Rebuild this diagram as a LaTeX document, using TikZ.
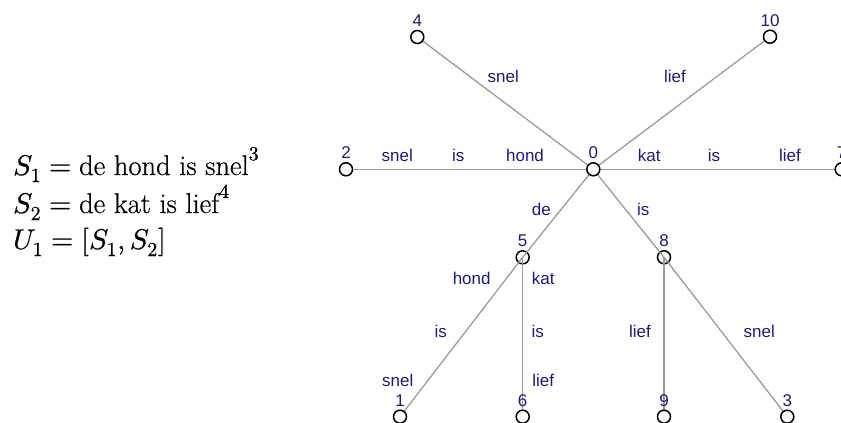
\documentclass[tikz,border=0pt]{standalone}
\usepackage{fontspec}
\usepackage{unicode-math}
\setmathfont{Latin Modern Math}[FakeBold=0.6]
\newfontfamily\formulafont{Latin Modern Roman}[FakeBold=0.6]
\newfontfamily\labelfont{Liberation Sans}
\pgfdeclarelayer{lower}
\pgfdeclarelayer{edges}
\pgfsetlayers{lower,edges,main}

\definecolor{labelblue}{RGB}{28,28,118}
\definecolor{linkgray}{RGB}{155,155,155}

\tikzset{
  vertex/.style={circle, draw=black, line width=1.5pt, fill=white,
                 minimum size=13pt, inner sep=0pt,
                 label={[tag, label distance=3pt]above:#1}},
  tag/.style={font=\labelfont\fontsize{17}{17}\selectfont, text=labelblue, inner sep=0pt},
  link/.style={draw=linkgray, line width=1.3pt},
  formula/.style={font=\formulafont\fontsize{28.5}{34}\selectfont, anchor=base west, inner sep=0pt}
}

\begin{document}
\begin{tikzpicture}[x=1pt, y=-1pt]
\useasboundingbox (0,0) rectangle (841,423);

% sentences and their union
\node[formula] (s1) at (13,175) {$S_1 = \mbox{de hond is snel}^3$};
\node[formula] (s2) at (13,213) {$S_2 = \mbox{de kat is lief}^4$};
\node[formula] (u1) at (13,249) {$U_1 = [S_1, S_2]$};

% inner vertices sit below the edges
\begin{pgfonlayer}{lower}
  \node[vertex=5] (n5) at (522.7,257.3) {};
  \node[vertex=8] (n8) at (664,257.3) {};
\end{pgfonlayer}

% root and leaves
\node[vertex=0]  (n0)  at (593.3,169.3) {};
\node[vertex=2]  (n2)  at (346,169.3) {};
\node[vertex=7]  (n7)  at (841.7,169.3) {};
\node[vertex=4]  (n4)  at (417.3,37) {};
\node[vertex=10] (n10) at (770,36.7) {};
\node[vertex=1]  (n1)  at (400,416.7) {};
\node[vertex=6]  (n6)  at (522.7,416.7) {};
\node[vertex=9]  (n9)  at (664,416.7) {};
\node[vertex=3]  (n3)  at (787.3,416.7) {};

% edges, center to center
\begin{pgfonlayer}{edges}
  \draw[link] (n0.center) -- (n4.center);
  \draw[link] (n0.center) -- (n10.center);
  \draw[link] (n0.center) -- (n2.center);
  \draw[link] (n0.center) -- (n7.center);
  \draw[link] (n0.center) -- (n5.center);
  \draw[link] (n0.center) -- (n8.center);
  \draw[link] (n5.center) -- (n1.center);
  \draw[link] (n5.center) -- (n6.center);
  \draw[link] (n8.center) -- (n9.center);
  \draw[link] (n8.center) -- (n3.center);
\end{pgfonlayer}

% edge words
\node[tag] (w04)  at (503.3,76)    {snel};
\node[tag] (w010) at (675,76)      {lief};
\node[tag] (w02a) at (397.3,155.7) {snel};
\node[tag] (w02b) at (458.3,155.7) {is};
\node[tag] (w02c) at (525,155.7)   {hond};
\node[tag] (w07a) at (649.3,155.7) {kat};
\node[tag] (w07b) at (714,155.7)   {is};
\node[tag] (w07c) at (790,155.7)   {lief};
\node[tag] (w05)  at (541.3,209)   {de};
\node[tag] (w08)  at (643.3,209)   {is};
\node[tag] (w51a) at (471.7,278.3) {hond};
\node[tag] (w51b) at (440.7,331.7) {is};
\node[tag] (w51c) at (397.7,380)   {snel};
\node[tag] (w56a) at (543.3,278.3) {kat};
\node[tag] (w56b) at (537.7,331.7) {is};
\node[tag] (w56c) at (543.3,380)   {lief};
\node[tag] (w89)  at (640,331.7)   {lief};
\node[tag] (w83)  at (759.3,331.7) {snel};
\end{tikzpicture}
\end{document}
